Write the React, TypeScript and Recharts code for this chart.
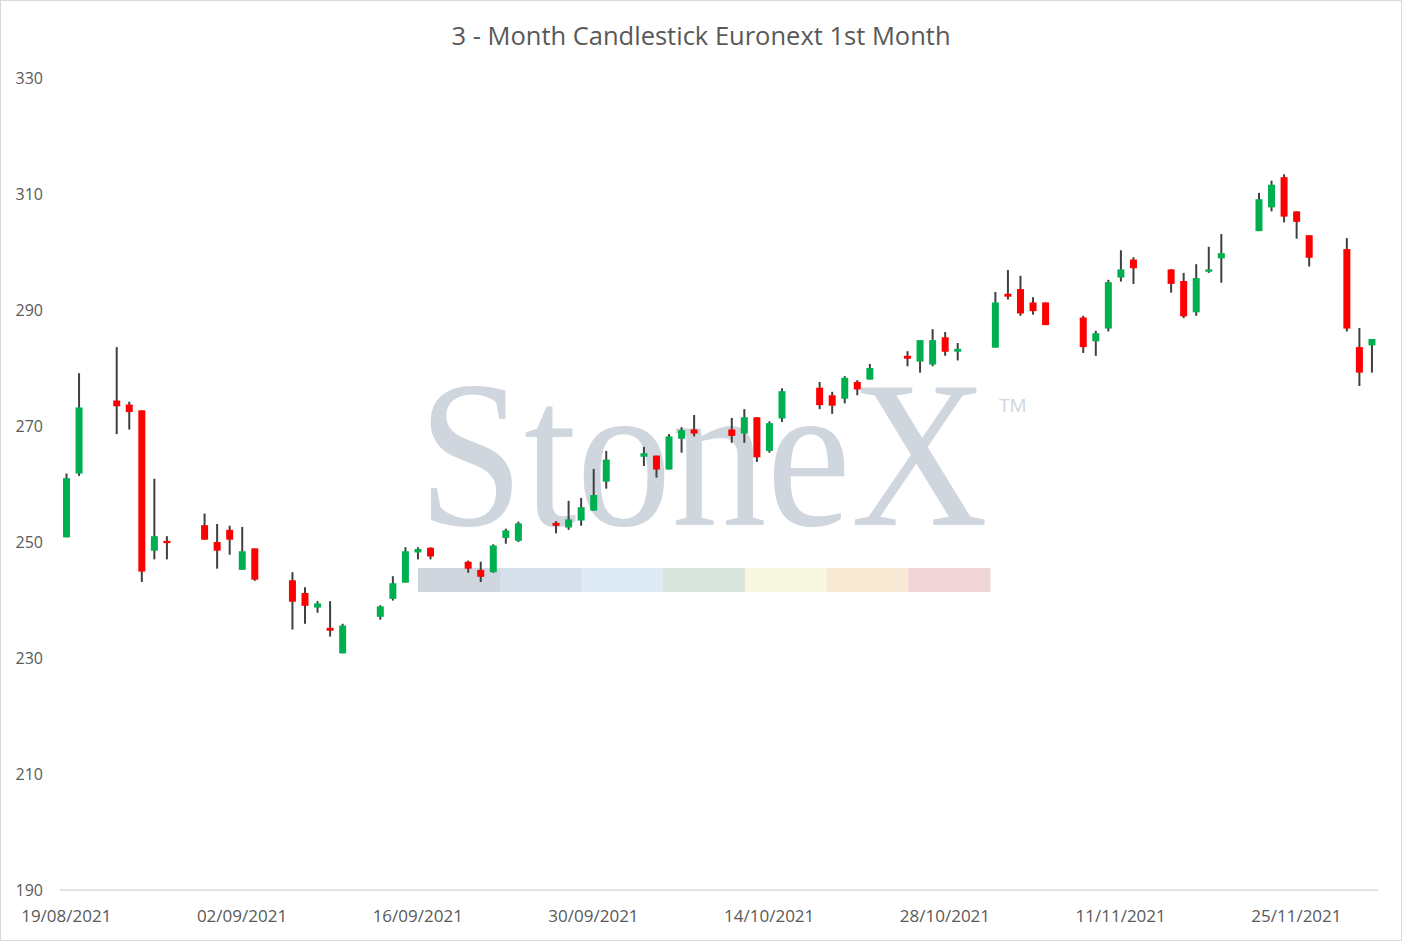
import React from "react";
import { ComposedChart, Bar, XAxis, YAxis } from "recharts";

// trading days shown on the chart
const dates = [
  "19/08/2021", "20/08/2021", "23/08/2021", "24/08/2021", "25/08/2021", "26/08/2021", "27/08/2021",
  "30/08/2021", "31/08/2021", "01/09/2021", "02/09/2021", "03/09/2021",
  "06/09/2021", "07/09/2021", "08/09/2021", "09/09/2021", "10/09/2021",
  "13/09/2021", "14/09/2021", "15/09/2021", "16/09/2021", "17/09/2021",
  "20/09/2021", "21/09/2021", "22/09/2021", "23/09/2021", "24/09/2021",
  "27/09/2021", "28/09/2021", "29/09/2021", "30/09/2021", "01/10/2021",
  "04/10/2021", "05/10/2021", "06/10/2021", "07/10/2021", "08/10/2021",
  "11/10/2021", "12/10/2021", "13/10/2021", "14/10/2021", "15/10/2021",
  "18/10/2021", "19/10/2021", "20/10/2021", "21/10/2021", "22/10/2021",
  "25/10/2021", "26/10/2021", "27/10/2021", "28/10/2021", "29/10/2021",
  "01/11/2021", "02/11/2021", "03/11/2021", "04/11/2021", "05/11/2021",
  "08/11/2021", "09/11/2021", "10/11/2021", "11/11/2021", "12/11/2021",
  "15/11/2021", "16/11/2021", "17/11/2021", "18/11/2021", "19/11/2021",
  "22/11/2021", "23/11/2021", "24/11/2021", "25/11/2021", "26/11/2021",
  "29/11/2021", "30/11/2021", "01/12/2021",
];

const opens = [
  250.8, 261.8, 274.4, 273.7, 272.7, 248.5, 250.2,
  252.9, 250.0, 252.1, 245.2, 248.9,
  243.4, 241.2, 238.7, 235.2, 230.8,
  237.1, 240.2, 243.0, 248.2, 249.0,
  246.6, 245.2, 244.8, 250.7, 250.2,
  253.3, 252.5, 253.7, 255.4, 260.4,
  264.7, 264.9, 262.5, 267.8, 269.4,
  269.4, 268.7, 271.5, 265.7, 271.3,
  276.6, 275.3, 274.7, 277.6, 278.0,
  282.1, 281.1, 280.6, 285.3, 282.8,
  283.5, 292.8, 293.6, 291.3, 291.3,
  288.7, 284.6, 286.8, 295.6, 298.7,
  297.0, 295.0, 289.6, 296.6, 298.9,
  303.6, 307.7, 312.9, 307.0, 302.9,
  300.5, 283.6, 283.9,
];

const highs = [
  261.8, 279.1, 283.6, 274.2, 272.7, 260.9, 251.0,
  254.9, 253.1, 252.8, 252.6, 248.9,
  244.8, 242.2, 239.8, 239.8, 235.9,
  239.1, 244.1, 249.1, 249.1, 249.1,
  246.8, 246.6, 249.6, 252.3, 253.5,
  253.6, 257.1, 257.6, 262.6, 265.7,
  266.4, 264.9, 268.6, 269.8, 271.9,
  271.4, 272.9, 271.5, 270.8, 276.5,
  277.6, 275.9, 278.6, 277.9, 280.7,
  282.9, 284.8, 286.7, 286.2, 284.3,
  293.1, 296.9, 295.9, 292.2, 291.3,
  289.0, 286.4, 295.2, 300.3, 299.1,
  297.0, 296.4, 297.9, 300.9, 303.1,
  310.2, 312.3, 313.4, 307.0, 302.9,
  302.4, 286.9, 285.0,
];

const lows = [
  250.8, 261.4, 268.6, 269.4, 243.1, 247.0, 247.0,
  250.4, 245.4, 247.8, 245.2, 243.3,
  234.9, 235.9, 237.8, 233.7, 230.8,
  236.6, 239.9, 243.0, 247.0, 247.0,
  244.7, 243.1, 244.7, 249.7, 250.0,
  251.5, 252.1, 252.8, 255.4, 259.2,
  263.1, 261.1, 262.5, 265.4, 268.2,
  267.1, 267.1, 263.8, 265.4, 270.7,
  272.9, 272.1, 273.9, 275.3, 278.0,
  280.3, 279.2, 280.3, 282.1, 281.3,
  283.5, 291.8, 289.0, 289.2, 287.4,
  282.6, 282.1, 286.3, 294.9, 294.5,
  293.0, 288.6, 289.0, 296.4, 294.7,
  303.6, 307.0, 305.1, 302.3, 297.5,
  286.3, 276.9, 279.2,
];

const closes = [
  261.0, 273.2, 273.4, 272.4, 244.9, 251.0, 249.8,
  250.4, 248.5, 250.4, 248.4, 243.5,
  239.7, 239.0, 239.4, 234.7, 235.6,
  238.9, 242.9, 248.4, 248.8, 247.5,
  245.4, 244.0, 249.4, 252.0, 253.2,
  252.8, 253.9, 256.0, 258.1, 264.2,
  265.3, 262.5, 268.2, 269.3, 268.7,
  268.3, 271.5, 264.6, 270.5, 276.0,
  273.6, 273.5, 278.3, 276.3, 280.0,
  281.6, 284.8, 284.8, 282.8, 283.3,
  291.3, 292.3, 289.4, 289.8, 287.4,
  283.6, 286.0, 294.8, 297.0, 297.2,
  294.5, 288.9, 295.5, 297.0, 299.8,
  309.1, 311.6, 306.1, 305.2, 299.0,
  286.8, 279.2, 285.0,
];

const tickLabels = [
  "19/08/2021", "02/09/2021", "16/09/2021", "30/09/2021",
  "14/10/2021", "28/10/2021", "11/11/2021", "25/11/2021",
];

const yTicks = [190, 210, 230, 250, 270, 290, 310, 330];

const stripColors = ["#d0d6de", "#d5dfe9", "#dfebf4", "#d6e4db", "#f7f6de", "#f8e9d5", "#f0d5d7"];

const UP = "#00b050";
const DOWN = "#ff0000";
const WICK = "#404040";
const FONT = "'Open Sans', 'Noto Sans', sans-serif";

function toDay(s: string): number {
  const [d, m, y] = s.split("/").map(Number);
  return Math.round(Date.UTC(y, m - 1, d) / 86400000);
}

const day0 = toDay(dates[0]);
const labelByDay: Record<number, string> = {};
tickLabels.forEach((t) => (labelByDay[toDay(t) - day0] = t));

const data = dates.map((d, i) => ({
  day: toDay(d) - day0,
  date: d,
  open: opens[i],
  high: highs[i],
  low: lows[i],
  close: closes[i],
  range: [lows[i], highs[i]],
}));

const lastDay = data[data.length - 1].day;

function Candle(props: any) {
  const { x, y, width, height, payload } = props;
  if (x == null || y == null) return null;
  const top = Math.min(y, y + height);
  const h = Math.abs(height);
  const { open, close, high, low } = payload;
  const span = high - low || 1;
  const py = (v: number) => top + ((high - v) / span) * h;
  const cx = x + width / 2;
  const bodyTop = py(Math.max(open, close));
  const bodyBottom = py(Math.min(open, close));
  const bodyH = Math.max(bodyBottom - bodyTop, 2);
  const up = close >= open;
  return (
    <g>
      <line x1={cx} x2={cx} y1={top} y2={top + h} stroke={WICK} strokeWidth={2} />
      <rect
        x={x}
        y={bodyTop}
        width={width}
        height={bodyH}
        fill={up ? UP : DOWN}
      />
    </g>
  );
}

function Backdrop() {
  const stripX = 418;
  const stripW = 572 / stripColors.length;
  return (
    <svg
      width={1402}
      height={941}
      style={{ position: "absolute", left: 0, top: 0 }}
    >
      <rect x={0.5} y={0.5} width={1401} height={940} fill="#ffffff" stroke="#d9d9d9" strokeWidth={1} />
      <g transform="translate(418,525) scale(1,1.1)">
        <text
          x={0}
          y={0}
          fontFamily="'Liberation Serif', 'DejaVu Serif', serif"
          fontSize={190}
          fill="#cfd6de"
        >
          StoneX
        </text>
      </g>
      <text x={999} y={412} fontFamily={FONT} fontSize={19} fill="#cfd6de">
        TM
      </text>
      {stripColors.map((c, i) => (
        <rect key={c} x={stripX + i * stripW} y={568} width={stripW + 0.5} height={24} fill={c} />
      ))}
      <text
        x={701}
        y={45}
        textAnchor="middle"
        fontFamily={FONT}
        fontSize={25.5}
        fill="#595959"
      >
        3 - Month Candlestick Euronext 1st Month
      </text>
    </svg>
  );
}

export default function App() {
  return (
    <div style={{ position: "absolute", left: 0, top: 0, width: 1402, height: 941 }}>
      <Backdrop />
      <div style={{ position: "absolute", left: 0, top: 0 }}>
        <ComposedChart
          width={1402}
          height={941}
          data={data}
          margin={{ top: 78, right: 24, bottom: 21, left: 10 }}
        >
          <XAxis
            dataKey="day"
            type="number"
            domain={[-0.5, lastDay + 0.5]}
            allowDataOverflow
            ticks={tickLabels.map((t) => toDay(t) - day0)}
            tickFormatter={(v: number) => labelByDay[v] ?? ""}
            height={30}
            axisLine={{ stroke: "#d9d9d9", strokeWidth: 1.5 }}
            tickLine={false}
            tickMargin={14}
            tick={{ fill: "#595959", fontSize: 17, fontFamily: FONT }}
            interval={0}
          />
          <YAxis
            type="number"
            domain={[190, 330]}
            ticks={yTicks}
            allowDataOverflow
            width={50}
            axisLine={false}
            tickLine={false}
            tickMargin={11}
            tick={{ fill: "#595959", fontSize: 16, fontFamily: FONT }}
          />
          <Bar
            dataKey="range"
            barSize={7}
            shape={(p: any) => <Candle {...p} />}
            isAnimationActive={false}
          />
        </ComposedChart>
      </div>
    </div>
  );
}
